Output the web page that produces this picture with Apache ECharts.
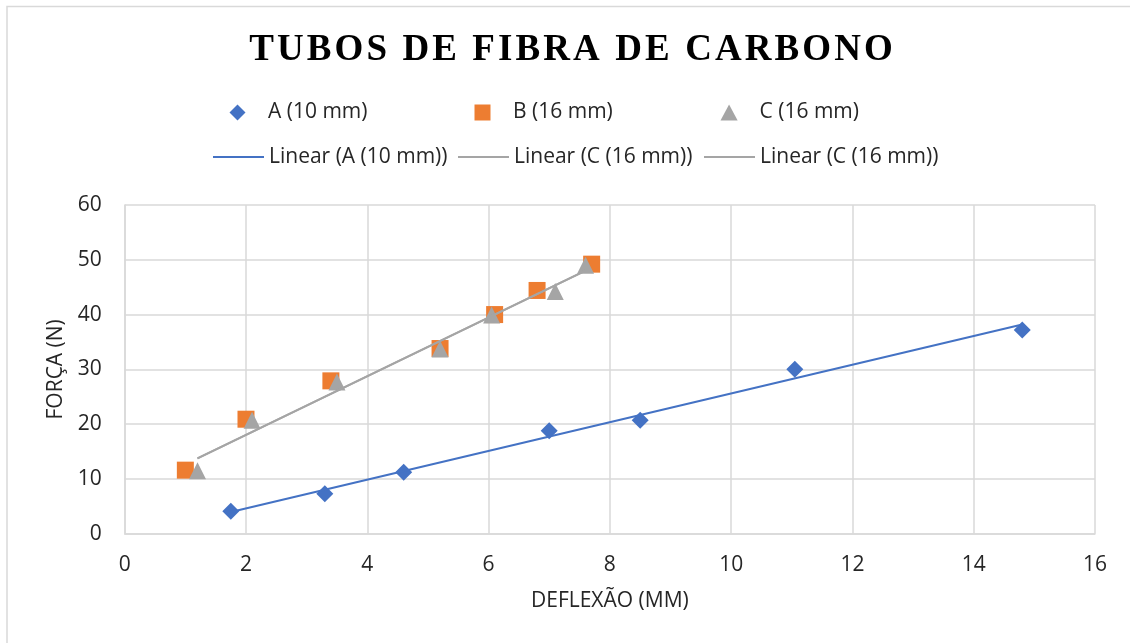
<!DOCTYPE html>
<html>
<head>
<meta charset="utf-8">
<title>Tubos de fibra de carbono</title>
<script src="https://cdn.jsdelivr.net/npm/echarts@6/dist/echarts.min.js"></script>
<style>
  html, body { margin: 0; padding: 0; background: #ffffff; }
  #chart { width: 1130px; height: 643px; }
</style>
</head>
<body>
<div id="chart"></div>
<script>
// Deflexão (mm) e força (N) medidas para cada tubo
const aDeflection = [1.75, 3.3, 4.6, 7.0, 8.5, 11.05, 14.8];
const aForce      = [4.1, 7.3, 11.2, 18.8, 20.7, 30.0, 37.2];
const bDeflection = [1.0, 2.0, 3.4, 5.2, 6.1, 6.8, 7.7];
const bForce      = [11.6, 20.9, 27.9, 33.8, 40.0, 44.4, 49.2];
const cDeflection = [1.2, 2.1, 3.5, 5.2, 6.05, 7.1, 7.6];
const cForce      = [11.5, 20.7, 27.7, 33.7, 39.9, 44.2, 49.0];

const seriesNames = ['A (10 mm)', 'B (16 mm)', 'C (16 mm)'];
const trendNames  = ['Linear (A (10 mm))', 'Linear (C (16 mm))', 'Linear (C (16 mm))'];
const titleText   = 'TUBOS DE FIBRA DE CARBONO';
const xAxisName   = 'DEFLEXÃO (MM)';
const yAxisName   = 'FORÇA (N)';
const xRange = { min: 0, max: 16, step: 2 };
const yRange = { min: 0, max: 60, step: 10 };

const colors = { a: '#4472C4', b: '#ED7D31', c: '#A5A5A5' };
const textColor = '#262626';
const gridColor = '#D9D9D9';
const uiFont = '"Open Sans", "Noto Sans", sans-serif';

// Marker outlines used for the legend keys (drawn square, centred in the key box)
const keyIcons = {
  diamond: 'path://M0,8 L8,0 L16,8 L8,16 Z',
  square: 'path://M0.5,0.5 H15.5 V15.5 H0.5 Z',
  triangle: 'path://M8,1 L15.5,15 L0.5,15 Z'
};

function pairs(xs, ys) { return xs.map((x, i) => [x, ys[i]]); }

// Least-squares trend line spanning the series' own x range
function linearTrend(xs, ys) {
  const n = xs.length;
  const mx = xs.reduce((s, v) => s + v, 0) / n;
  const my = ys.reduce((s, v) => s + v, 0) / n;
  let sxy = 0, sxx = 0;
  for (let i = 0; i < n; i++) { sxy += (xs[i] - mx) * (ys[i] - my); sxx += (xs[i] - mx) * (xs[i] - mx); }
  const slope = sxy / sxx, icpt = my - slope * mx;
  const x0 = Math.min(...xs), x1 = Math.max(...xs);
  return [[x0, icpt + slope * x0], [x1, icpt + slope * x1]];
}

// Legend laid out as a 3-column grid, one legend component per cell;
// marker keys sit centred over the line keys of the row below
const legendCols = [212, 457, 703];
const legendRows = [102, 146.5];
const markerKeyShift = 17.5;
const legendCells = [
  { name: seriesNames[0], icon: keyIcons.diamond },
  { name: seriesNames[1], icon: keyIcons.square },
  { name: seriesNames[2], icon: keyIcons.triangle },
  { name: trendNames[0], itemStyle: { opacity: 0 } },
  { name: trendNames[1], itemStyle: { opacity: 0 } },
  { name: trendNames[2], itemStyle: { opacity: 0 } }
];
const legends = legendCells.map((cell, i) => ({
  left: legendCols[i % 3] + (cell.icon ? markerKeyShift : 0),
  top: legendRows[Math.floor(i / 3)],
  padding: 0,
  itemWidth: 51,
  itemHeight: 16,
  symbolKeepAspect: true,
  selectedMode: false,
  textStyle: { fontFamily: uiFont, fontSize: 21, color: textColor },
  data: [cell]
}));

const chart = echarts.init(document.getElementById('chart'), null, { renderer: 'canvas' });

chart.setOption({
  animation: false,
  backgroundColor: '#ffffff',
  graphic: [
    {
      type: 'rect',
      shape: { x: 7, y: 6.5, width: 1200, height: 700 },
      style: { fill: 'none', stroke: gridColor, lineWidth: 1.5 },
      silent: true
    },
    {
      type: 'text',
      x: 571,
      y: 50,
      style: {
        text: titleText.split('').join('\u200A'),
        font: 'bold 37px "Liberation Serif", "Times New Roman", serif',
        fill: '#000000',
        align: 'center',
        verticalAlign: 'middle'
      },
      silent: true
    }
  ],
  legend: legends,
  grid: { left: 124.7, right: 35, top: 205, bottom: 109.3, containLabel: false },
  xAxis: {
    type: 'value',
    min: xRange.min, max: xRange.max, interval: xRange.step,
    name: xAxisName,
    nameLocation: 'middle',
    nameGap: 57,
    nameTextStyle: { fontFamily: uiFont, fontSize: 21, color: textColor },
    axisLine: { show: true, lineStyle: { color: gridColor, width: 1.5 } },
    axisTick: { show: false },
    axisLabel: { margin: 21, fontFamily: uiFont, fontSize: 21, color: textColor },
    splitLine: { show: true, lineStyle: { color: gridColor, width: 1.5 } }
  },
  yAxis: {
    type: 'value',
    min: yRange.min, max: yRange.max, interval: yRange.step,
    name: yAxisName,
    nameLocation: 'middle',
    nameGap: 56,
    nameTextStyle: { fontFamily: uiFont, fontSize: 21, color: textColor },
    axisLine: { show: true, lineStyle: { color: gridColor, width: 1.5 } },
    axisTick: { show: false },
    axisLabel: { margin: 23, fontFamily: uiFont, fontSize: 21, color: textColor },
    splitLine: { show: true, lineStyle: { color: gridColor, width: 1.5 } }
  },
  series: [
    {
      name: seriesNames[0], type: 'scatter', symbol: 'diamond', symbolSize: 17,
      itemStyle: { color: colors.a, opacity: 1 }, data: pairs(aDeflection, aForce), z: 2
    },
    {
      name: seriesNames[1], type: 'scatter', symbol: 'rect', symbolSize: 17,
      itemStyle: { color: colors.b, opacity: 1 }, data: pairs(bDeflection, bForce), z: 2
    },
    {
      name: seriesNames[2], type: 'scatter', symbol: 'triangle', symbolSize: 17,
      itemStyle: { color: colors.c, opacity: 1 }, data: pairs(cDeflection, cForce), z: 3
    },
    {
      name: trendNames[0], type: 'line', symbol: 'none', silent: true,
      lineStyle: { color: colors.a, width: 2 }, itemStyle: { color: colors.a },
      data: linearTrend(aDeflection, aForce), z: 4
    },
    {
      name: trendNames[1], type: 'line', symbol: 'none', silent: true,
      lineStyle: { color: colors.c, width: 2 }, itemStyle: { color: colors.c },
      data: linearTrend(cDeflection, cForce), z: 4
    },
    {
      name: trendNames[2], type: 'line', symbol: 'none', silent: true,
      lineStyle: { color: colors.c, width: 2 }, itemStyle: { color: colors.c },
      data: linearTrend(cDeflection, cForce), z: 4
    }
  ]
});
</script>
</body>
</html>
